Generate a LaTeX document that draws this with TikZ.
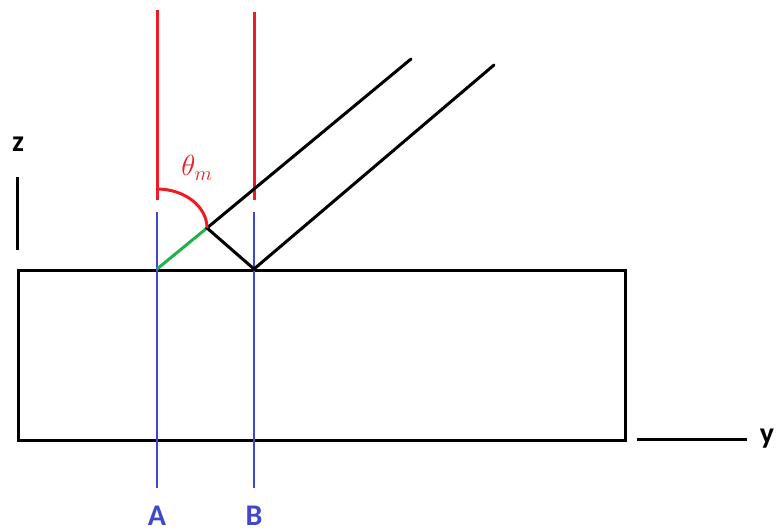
\RequirePackage{fix-cm}
\documentclass[tikz,border=0pt]{standalone}
\usepackage{fontspec}
\setsansfont{Carlito}
\definecolor{pred}{RGB}{237,28,36}
\definecolor{pblue}{RGB}{63,72,204}
\definecolor{pgreen}{RGB}{34,177,76}
\begin{document}
\begin{tikzpicture}[x=1pt,y=-1pt,
  blk/.style={draw=black,line width=3pt},
  redl/.style={draw=pred,line width=3pt},
  bluel/.style={draw=pblue,line width=2.8pt},
  greenl/.style={draw=pgreen,line width=3pt},
  lab/.style={font=\sffamily\bfseries\fontsize{30}{30}\selectfont,inner sep=0pt}]
\useasboundingbox (0,0) rectangle (778,532);
% box
\node[blk,rectangle,minimum width=607pt,minimum height=170pt,inner sep=0pt,anchor=north west] (box) at (17,269) {};
% coordinates
\coordinate (Rat) at (157,10);
\coordinate (Rab) at (157,200);
\coordinate (Rbt) at (254,12);
\coordinate (Rbb) at (254,200);
\coordinate (Bat) at (157,212);
\coordinate (Bab) at (157,488);
\coordinate (Bbt) at (254,212);
\coordinate (Bbb) at (254,488);
\coordinate (P) at (157,269);
\coordinate (Q) at (207,228);
\coordinate (R) at (254,269);
\coordinate (E1) at (411,59);
\coordinate (E2) at (494,65);
\coordinate (Zt) at (17,177);
\coordinate (Zb) at (17,250);
\coordinate (Yl) at (637,439);
\coordinate (Yr) at (747,439);
% lines
\draw[redl] (Rat) -- (Rab);
\draw[redl] (Rbt) -- (Rbb);
\draw[bluel] (Bat) -- (Bab);
\draw[bluel] (Bbt) -- (Bbb);
\draw[greenl] (P) -- (Q);
\draw[blk,line cap=round] (E1) -- (Q) -- (R) -- (E2);
\draw[redl] (157,189) arc[start angle=90,end angle=0,x radius=50,y radius=-39];
\draw[blk] (Zt) -- (Zb);
\draw[blk] (Yl) -- (Yr);
% labels
\node[text=pred,font=\fontsize{29}{29}\selectfont,inner sep=0pt] (th) at (197,168) {$\theta_m$};
\node[lab,text=pblue] (A) at (157,516) {A};
\node[lab,text=pblue] (B) at (254,516) {B};
\node[lab] (z) at (18,144) {z};
\node[lab] (y) at (767,439) {y};
\end{tikzpicture}
\end{document}
